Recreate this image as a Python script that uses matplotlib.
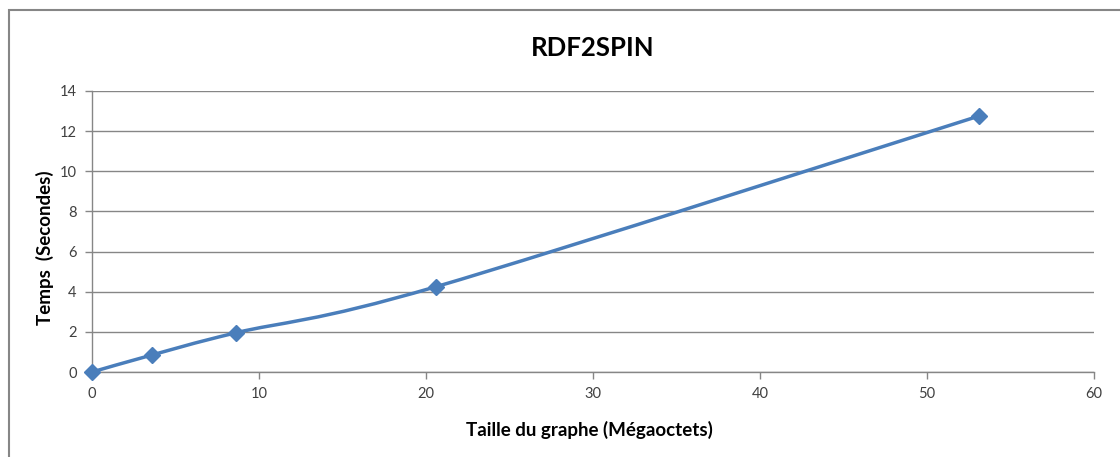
import matplotlib
matplotlib.use("Agg")
import matplotlib.pyplot as plt
from matplotlib.path import Path
from matplotlib.patches import PathPatch, Rectangle
import numpy as np

plt.rcParams['font.family'] = ['Lato', 'DejaVu Sans']

title = "RDF2SPIN"
x_label = "Taille du graphe (Mégaoctets)"
y_label = "Temps  (Secondes)"
size_mb = [0.0, 3.6, 8.6, 20.6, 53.1]
time_s = [0.0, 0.85, 1.95, 4.25, 12.75]
x_ticks = [0, 10, 20, 30, 40, 50, 60]
y_ticks = [0, 2, 4, 6, 8, 10, 12, 14]

W, H = 1120, 457
fig = plt.figure(figsize=(W / 100, H / 100), dpi=100)
fig.patch.set_facecolor('white')

# outer chart border
fig.patches.append(Rectangle((9 / W, -0.05), 1.2, 1 - 10 / H + 0.05,
                             transform=fig.transFigure, fill=False,
                             edgecolor='#868686', linewidth=1.5))

ax = fig.add_axes([92 / W, 1 - 372 / H, (1094 - 92) / W, (372 - 91) / H])
ax.set_xlim(0, 60)
ax.set_ylim(0, 14)
ax.set_xticks(x_ticks)
ax.set_yticks(y_ticks)
ax.grid(axis='y', color='#868686', linewidth=1)
ax.set_axisbelow(True)
for s in ['top', 'right']:
    ax.spines[s].set_visible(False)
for s in ['left', 'bottom']:
    ax.spines[s].set_color('#868686')
    ax.spines[s].set_linewidth(1)
ax.tick_params(axis='both', colors='#868686', labelcolor='#404040',
               labelsize=10.5, length=5, width=1, direction='out')
ax.tick_params(axis='x', pad=6)
ax.tick_params(axis='y', pad=6)

# smoothed line (Catmull-Rom style Bezier, as in Excel)
xs = np.array(size_mb)
ys = np.array(time_s)
n = len(xs)
verts = [(xs[0], ys[0])]
codes = [Path.MOVETO]
for i in range(n - 1):
    p0 = np.array([xs[max(i - 1, 0)], ys[max(i - 1, 0)]])
    p1 = np.array([xs[i], ys[i]])
    p2 = np.array([xs[i + 1], ys[i + 1]])
    p3 = np.array([xs[min(i + 2, n - 1)], ys[min(i + 2, n - 1)]])
    c1 = p1 + (p2 - p0) / 6
    c2 = p2 - (p3 - p1) / 6
    verts += [tuple(c1), tuple(c2), tuple(p2)]
    codes += [Path.CURVE4] * 3
ax.add_patch(PathPatch(Path(verts, codes), facecolor='none',
                       edgecolor='#4A7EBB', linewidth=2.5, zorder=3))
ax.plot(size_mb, time_s, linestyle='none', marker='D', markersize=8,
        color='#4A7EBB', zorder=4, clip_on=False)

fig.text(593 / W, 1 - 48 / H, title, ha='center', va='center',
         fontsize=18.5, fontweight='bold', color='#000000')
fig.text(589 / W, 1 - 430 / H, x_label, ha='center', va='center',
         fontsize=13.5, fontweight='bold', color='#000000')
fig.text(45 / W, 1 - 248 / H, y_label, ha='center', va='center',
         rotation=90, fontsize=13.5, fontweight='bold', color='#000000')

fig.savefig('out.png', dpi=100)
